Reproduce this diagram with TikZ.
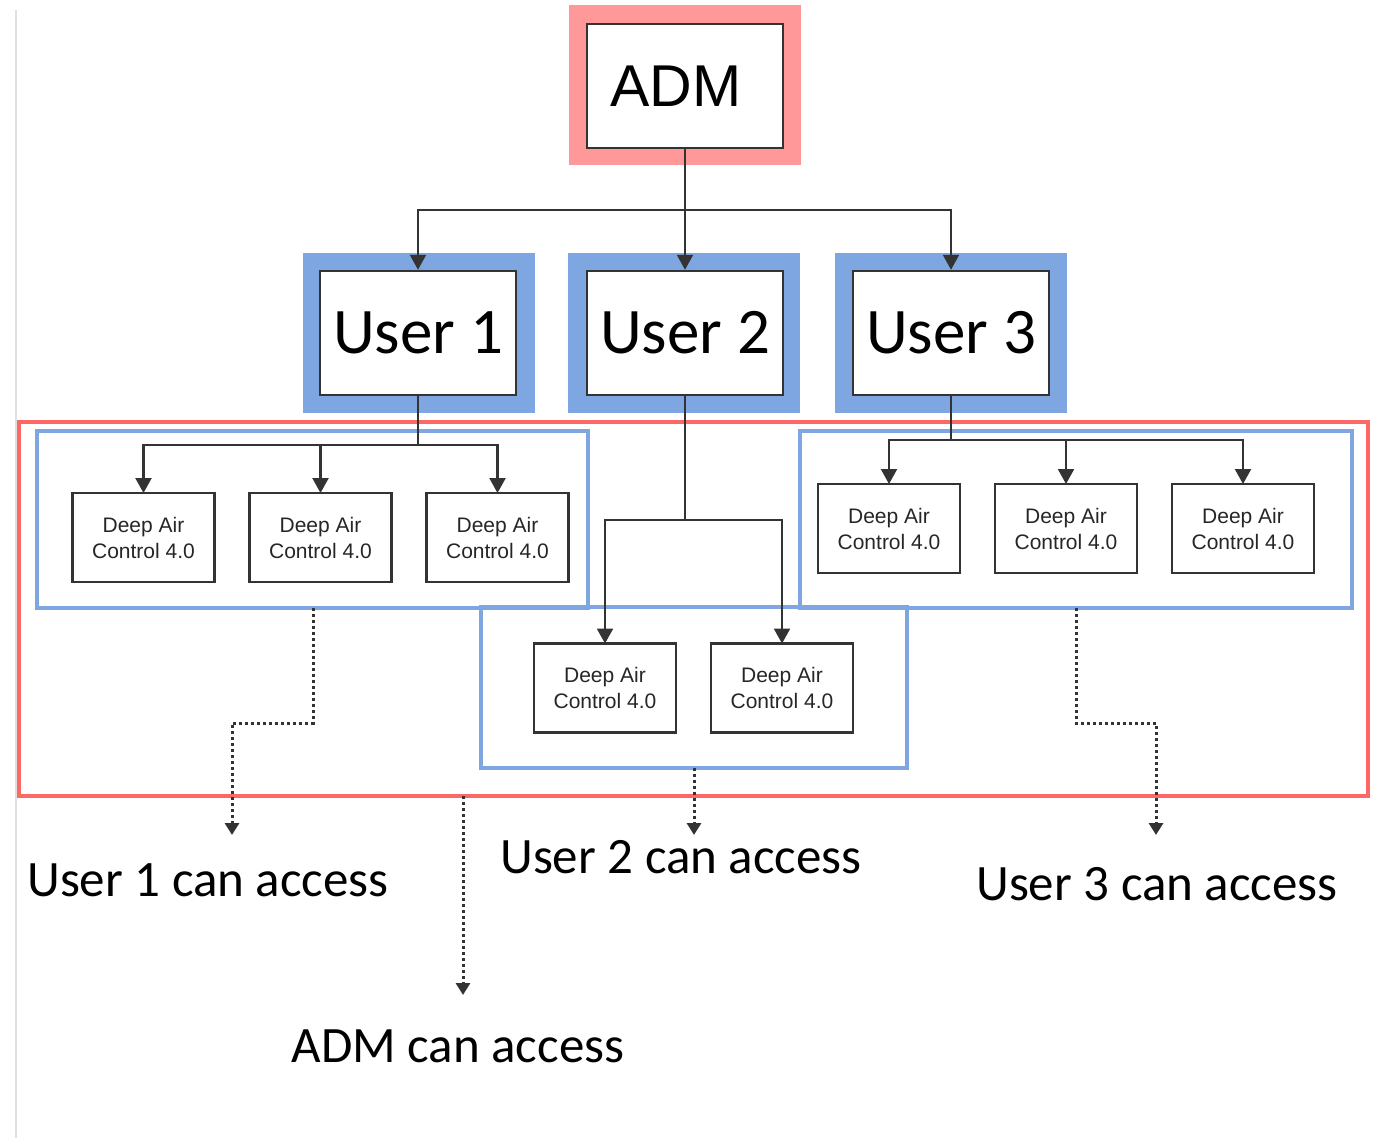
\documentclass[tikz,border=0pt]{standalone}
\usepackage{fontspec}
\setmainfont{Liberation Sans}
\newfontfamily\calfont{Carlito}
\usetikzlibrary{positioning, arrows.meta}
\definecolor{admpink}{HTML}{FF9999}
\definecolor{userblue}{HTML}{7EA6E0}
\definecolor{framered}{HTML}{FF6666}
\definecolor{linegray}{HTML}{333333}

\begin{document}
\begin{tikzpicture}[x=1pt, y=-1pt,
    outerbox/.style={minimum width=232pt, minimum height=160pt, inner sep=0pt},
    innerbox/.style={draw=linegray, line width=2.5pt, fill=white, minimum width=196pt, minimum height=124pt, inner sep=0pt},
    dac/.style={draw=linegray, line width=2.2pt, outer sep=0pt, minimum width=142pt, minimum height=89pt, inner sep=0pt, align=center, text=black!85, font=\fontsize{21}{26}\selectfont},
    groupbox/.style={draw=userblue, line width=4pt},
    link/.style={draw=linegray, line width=2.2pt, -{Triangle[width=16pt,length=15pt]}},
    access/.style={draw=linegray, line width=3pt, dash pattern=on 3pt off 3pt, -{Triangle[width=14pt,length=12pt]}},
    accesstext/.style={font=\calfont\fontsize{51}{60}\selectfont},
    node distance=35pt]
    \useasboundingbox (0,0) rectangle (1392,1138);
    \draw [black!12, line width=2.5pt] (16,10) -- (16,1138);

    % frames
    \draw [framered, line width=3.5pt] (19,422) rectangle (1368,796);
    \draw [groupbox] (37,431) rectangle (588,608);
    \draw [groupbox] (800,431) rectangle (1352,608);
    \draw [groupbox] (481,607) rectangle (907,768);

    % adm and users
    \node [outerbox, fill=admpink] (admbg) at (685,85) {};
    \node [innerbox, font=\fontsize{59}{60}\selectfont] (adm) at (685,86) {ADM\kern18pt};
    \node [outerbox, fill=userblue] (u1bg) at (419,333) {};
    \node [innerbox, font=\calfont\fontsize{65}{70}\selectfont] (u1) at (418,333) {User 1};
    \node [outerbox, fill=userblue] (u2bg) at (684,333) {};
    \node [innerbox, font=\calfont\fontsize{65}{70}\selectfont] (u2) at (685,333) {User 2};
    \node [outerbox, fill=userblue] (u3bg) at (951,333) {};
    \node [innerbox, font=\calfont\fontsize{65}{70}\selectfont] (u3) at (951,333) {User 3};

    % devices
    \node [dac] (d11) at (143.5,537.5) {Deep Air\\Control 4.0};
    \node [dac, right=of d11] (d12) {Deep Air\\Control 4.0};
    \node [dac, right=of d12] (d13) {Deep Air\\Control 4.0};
    \node [dac] (d21) at (605,688) {Deep Air\\Control 4.0};
    \node [dac, right=of d21] (d22) {Deep Air\\Control 4.0};
    \node [dac] (d31) at (889,528.5) {Deep Air\\Control 4.0};
    \node [dac, right=of d31] (d32) {Deep Air\\Control 4.0};
    \node [dac, right=of d32] (d33) {Deep Air\\Control 4.0};

    % links
    \coordinate (admfork) at (685,210);
    \draw [link] (adm.south) -- (u2.north);
    \draw [link] (admfork) -| (u1.north);
    \draw [link] (admfork) -| (u3.north);
    \coordinate (u1fork) at (418,445);
    \draw [link] (u1.south) -- (u1fork) -| (d11.north);
    \draw [link] (u1fork) -| (d12.north);
    \draw [link] (u1fork) -| (d13.north);
    \coordinate (u2fork) at (685,520);
    \draw [link] (u2.south) -- (u2fork) -| (d21.north);
    \draw [link] (u2fork) -| (d22.north);
    \coordinate (u3fork) at (951,440);
    \draw [link] (u3.south) -- (u3fork) -| (d31.north);
    \draw [link] (u3fork) -| (d32.north);
    \draw [link] (u3fork) -| (d33.north);

    % who can access what
    \node [accesstext] (t1) at (208,880) {User 1 can access};
    \node [accesstext] (t2) at (681,857) {User 2 can access};
    \node [accesstext] (t3) at (1157,884) {User 3 can access};
    \node [accesstext] (tadm) at (458,1046) {ADM can access};
    \coordinate (g1out) at (313,608);
    \coordinate (g1end) at (232,835);
    \coordinate (g2out) at (694,768);
    \coordinate (g2end) at (694,835);
    \coordinate (admout) at (463,796);
    \coordinate (admend) at (463,995);
    \coordinate (g3out) at (1076,608);
    \coordinate (g3end) at (1156,835);
    \draw [access] (g1out) -- (313,723) -| (g1end);
    \draw [access] (g2out) -- (g2end);
    \draw [access] (admout) -- (admend);
    \draw [access] (g3out) -- (1076,723) -| (g3end);
\end{tikzpicture}
\end{document}
